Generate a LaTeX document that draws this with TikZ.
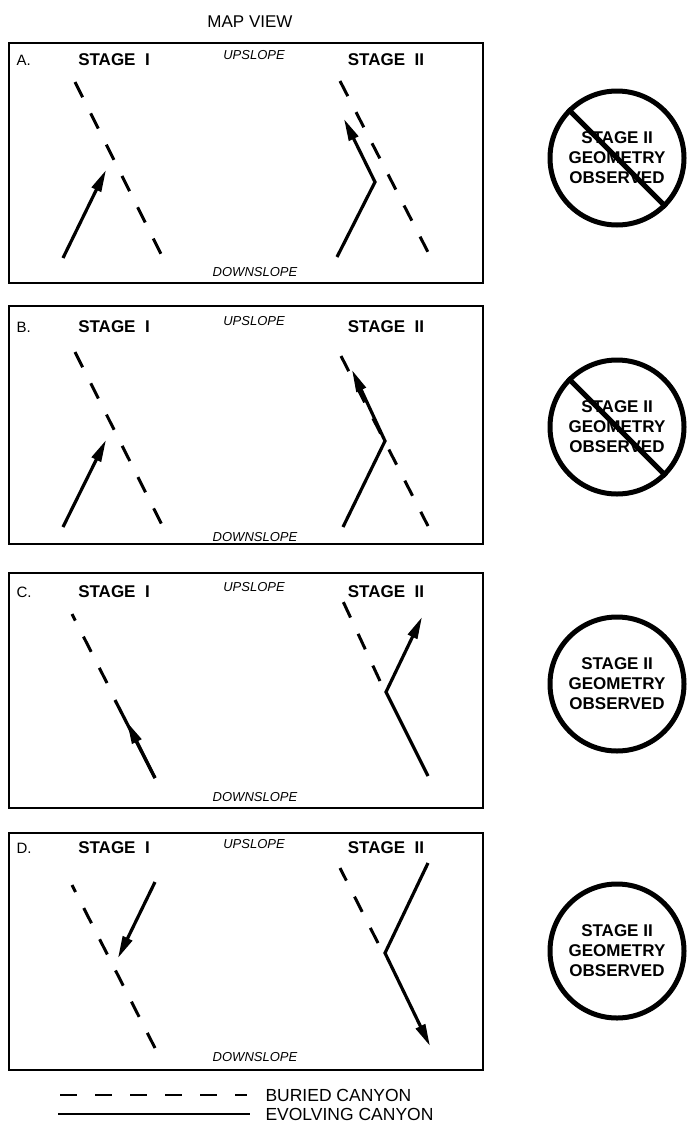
\documentclass[tikz,border=0pt]{standalone}
\usepackage{fontspec}
\setmainfont{Liberation Sans}
\usetikzlibrary{arrows.meta}

\tikzset{
    buried/.style = {line width=3pt, dash pattern=on 17pt off 18pt},
    evolving/.style = {line width=3.2pt},
    flow/.style = {evolving, -{Triangle[length=22pt,width=10pt]}},
    stagelabel/.style = {font=\bfseries\fontsize{17}{19}\selectfont},
    slopelabel/.style = {font=\itshape\fontsize{13}{15}\selectfont},
    verdict/.style = {circle, draw, line width=5pt, minimum size=134pt, inner sep=0pt,
        align=center, font=\bfseries\fontsize{17}{20}\selectfont},
}

\begin{document}
\begin{tikzpicture}[x=1pt, y=-1pt]
    \useasboundingbox (0,0) rectangle (691,1122);

    \node (title) at (250,22) {\fontsize{17}{19}\selectfont MAP VIEW};

    % Frames and labels
    \foreach \p/\top/\bot/\ly/\uy/\dy in {A/43/283/60/55/272, B/306/544/327/321/537,
                                         C/573/808/592/587/797, D/833/1070/848/844/1057} {
        \draw[line width=1.8pt] (9,\top) rectangle (483,\bot);
        \node[anchor=west, font=\fontsize{15}{17}\selectfont] (lab\p) at (13,\ly) {\p.};
        \node[stagelabel] (one\p) at (114,\ly) {STAGE\ \ I};
        \node[slopelabel] (up\p) at (254,\uy) {UPSLOPE};
        \node[stagelabel] (two\p) at (386,\ly) {STAGE\ \ II};
        \node[slopelabel] (down\p) at (255,\dy) {DOWNSLOPE};
    }

    % A
    \draw[buried] (75,82) -- (163,258);
    \draw[flow] (63,258) -- (106,170);
    \draw[buried] (340,81) -- (430,256);
    \draw[flow] (337,257) -- (375,182) -- (344,119);

    % B
    \draw[buried] (75,352) -- (163,527);
    \draw[flow] (63,527) -- (106,440);
    \draw[buried] (341,356) -- (428,526);
    \draw[flow] (343,527) -- (385,441) -- (352,370);

    % C
    \draw[buried] (107,683) -- (72,614);
    \draw[evolving] (155,778) -- (115,700);
    \draw[flow] (155,778) -- (127,722);
    \draw[buried] (380,681) -- (341,597);
    \draw[flow] (428,776) -- (386,692) -- (422,617);

    % D
    \draw[buried] (155,1048) -- (72,885);
    \draw[flow] (155,882) -- (118,958);
    \draw[buried] (378,943) -- (340,868);
    \draw[flow] (428,863) -- (385,953) -- (430,1046);

    % Verdicts
    \foreach \p/\cy in {A/158, B/427, C/684, D/951}
        \node[verdict] (obs\p) at (617,\cy) {STAGE II\\GEOMETRY\\OBSERVED};
    \draw[line width=5pt] (obsA.135) -- (obsA.-45);
    \draw[line width=5pt] (obsB.135) -- (obsB.-45);

    % Legend
    \draw[line width=2.2pt, dash pattern=on 17pt off 18pt] (60,1095) -- (247,1095);
    \draw[line width=2.2pt] (58,1114) -- (250,1114);
    \node[anchor=west, font=\fontsize{17.5}{19}\selectfont] (buried) at (262,1095) {BURIED CANYON};
    \node[anchor=west, font=\fontsize{17.5}{19}\selectfont] (evolving) at (262,1114) {EVOLVING CANYON};
\end{tikzpicture}
\end{document}
